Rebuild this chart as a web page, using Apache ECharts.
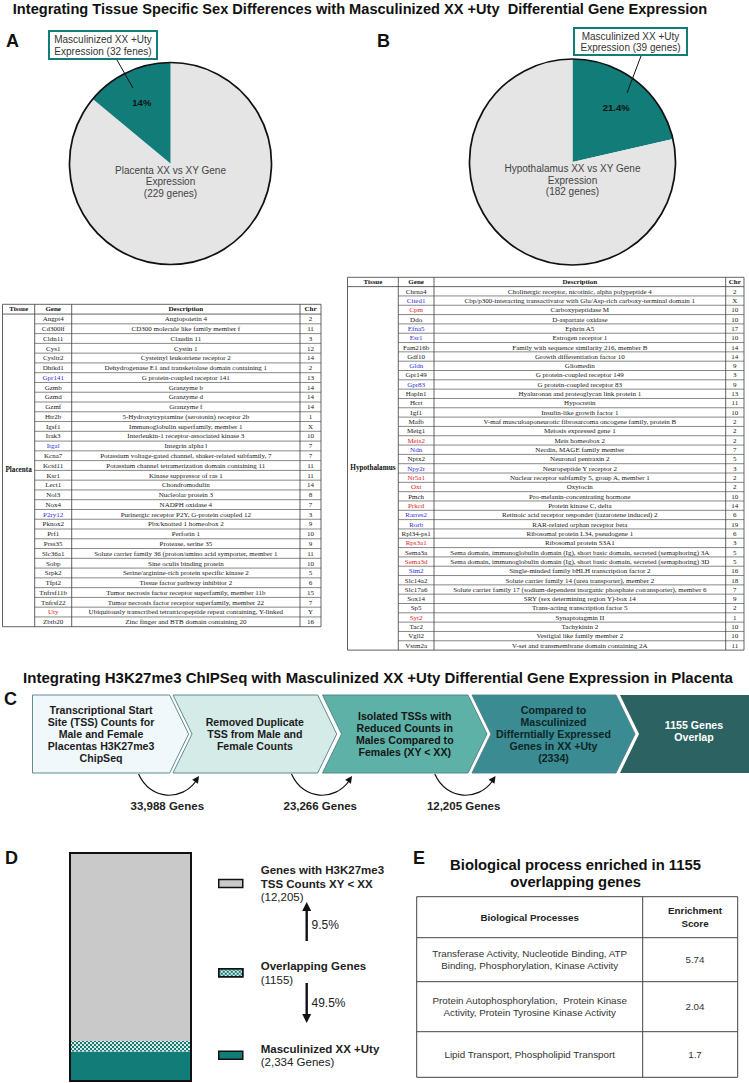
<!DOCTYPE html>
<html>
<head>
<meta charset="utf-8">
<script src="https://cdn.jsdelivr.net/npm/echarts@6/dist/echarts.min.js"></script>
<style>
  html, body { margin: 0; padding: 0; background: #fff; }
  #chart { width: 749px; height: 1083px; }
</style>
</head>
<body>
<div id="chart"></div>
<script>
// ---------------- data ----------------
const mainTitle = 'Integrating Tissue Specific Sex Differences with Masculinized XX +Uty  Differential Gene Expression';
const flowTitle = 'Integrating H3K27me3 ChIPSeq with Masculinized XX +Uty Differential Gene Expression in Placenta';

// pie A (placenta) : [rest, masculinized]
const pieANames = ['Placenta XX vs XY Gene\nExpression\n(229 genes)', 'Masculinized XX +Uty\nExpression (32 fenes)'];
const pieAValues = [197, 32];
const pieALabels = ['', '14%'];
// pie B (hypothalamus) : [masculinized, rest]
const pieBNames = ['Masculinized XX +Uty\nExpression (39 genes)', 'Hypothalamus XX vs XY Gene\nExpression\n(182 genes)'];
const pieBValues = [39, 143];
const pieBLabels = ['21.4%', ''];

const tableHeader = ['Tissue', 'Gene', 'Description', 'Chr'];

const placentaGenes = ['Angpt4', 'Cd300lf', 'Cldn11', 'Cys1', 'Cysltr2', 'Dhtkd1', 'Gpr141', 'Gzmb', 'Gzmd', 'Gzmf',
  'Htr2b', 'Igsf1', 'Irak3', 'Itgal', 'Kcna7', 'Kctd11', 'Ksr1', 'Lect1', 'Nol3', 'Nox4', 'P2ry12', 'Pknox2', 'Prf1',
  'Prss35', 'Slc36a1', 'Sobp', 'Srpk2', 'Tfpi2', 'Tnfrsf11b', 'Tnfrsf22', 'Uty', 'Zbtb20'];
const placentaDesc = ['Angiopoietin 4', 'CD300 molecule like family member f', 'Claudin 11', 'Cystin 1',
  'Cysteinyl leukotriene receptor 2', 'Dehydrogenase E1 and transketolase domain containing 1',
  'G protein-coupled receptor 141', 'Granzyme b', 'Granzyme d', 'Granzyme f',
  '5-Hydroxytryptamine (serotonin) receptor 2b', 'Immunoglobulin superfamily, member 1',
  'Interleukin-1 receptor-associated kinase 3', 'Integrin alpha l',
  'Potassium voltage-gated channel, shaker-related subfamily, 7',
  'Potassium channel tetramerization domain containing 11', 'Kinase suppressor of ras 1', 'Chondromodulin',
  'Nucleolar protein 3', 'NADPH oxidase 4', 'Purinergic receptor P2Y, G-protein coupled 12',
  'Pbx/knotted 1 homeobox 2', 'Perforin 1', 'Protease, serine 35',
  'Solute carrier family 36 (proton/amino acid symporter, member 1', 'Sine oculis binding protein',
  'Serine/arginine-rich protein specific kinase 2', 'Tissue factor pathway inhibitor 2',
  'Tumor necrosis factor receptor superfamily, member 11b', 'Tumor necrosis factor receptor superfamily, member 22',
  'Ubiquitously transcribed tetratricopeptide repeat containing, Y-linked', 'Zinc finger and BTB domain containing 20'];
const placentaChr = ['2', '11', '3', '12', '14', '2', '13', '14', '14', '14', '1', 'X', '10', '7', '7', '11', '11', '14',
  '8', '7', '3', '9', '10', '9', '11', '10', '5', '6', '15', '7', 'Y', '16'];
const placentaBlue = ['Gpr141', 'Itgal', 'P2ry12'];
const placentaRed = ['Uty'];

const hypoGenes = ['Chrna4', 'Cited1', 'Cpm', 'Ddo', 'Efna5', 'Esr1', 'Fam216b', 'Gdf10', 'Gldn', 'Gpr149', 'Gpr83',
  'Hapln1', 'Hcrt', 'Igf1', 'Mafb', 'Meig1', 'Meis2', 'Ndn', 'Nptx2', 'Npy2r', 'Nr5a1', 'Oxt', 'Pmch', 'Prkcd',
  'Rarres2', 'Rorb', 'Rpl34-ps1', 'Rps3a1', 'Sema3a', 'Sema3d', 'Sim2', 'Slc14a2', 'Slc17a6', 'Sox14', 'Sp5', 'Syt2',
  'Tac2', 'Vgll2', 'Vstm2a'];
const hypoDesc = ['Cholinergic receptor, nicotinic, alpha polypeptide 4',
  'Cbp/p300-interacting transactivator with Glu/Asp-rich carboxy-terminal domain 1', 'Carboxypeptidase M',
  'D-aspartate oxidase', 'Ephrin A5', 'Estrogen receptor 1', 'Family with sequence similarity 216, member B',
  'Growth differentiation factor 10', 'Gliomedin', 'G protein-coupled receptor 149', 'G protein-coupled receptor 83',
  'Hyaluronan and proteoglycan link protein 1', 'Hypocretin', 'Insulin-like growth factor 1',
  'V-maf musculoaponeurotic fibrosarcoma oncogene family, protein B', 'Meiosis expressed gene 1',
  'Meis homeobox 2', 'Necdin, MAGE family member', 'Neuronal pentraxin 2', 'Neuropeptide Y receptor 2',
  'Nuclear receptor subfamily 5, group A, member 1', 'Oxytocin', 'Pro-melanin-concentrating hormone',
  'Protein kinase C, delta', 'Retinoic acid receptor responder (tazarotene induced) 2',
  'RAR-related orphan receptor beta', 'Ribosomal protein L34, pseudogene 1', 'Ribosomal protein S3A1',
  'Sema domain, immunoglobulin domain (Ig), short basic domain, secreted (semaphoring) 3A',
  'Sema domain, immunoglobulin domain (Ig), short basic domain, secreted (semaphoring) 3D',
  'Single-minded family bHLH transcription factor 2', 'Solute carrier family 14 (urea transporter), member 2',
  'Solute carrier family 17 (sodium-dependent inorganic phosphate cotransporter), member 6',
  'SRY (sex determining region Y)-box 14', 'Trans-acting transcription factor 5', 'Synaptotagmin II',
  'Tachykinin 2', 'Vestigial like family member 2', 'V-set and transmembrane domain containing 2A'];
const hypoChr = ['2', 'X', '10', '10', '17', '10', '14', '14', '9', '3', '9', '13', '11', '10', '2', '2', '2', '7', '5',
  '3', '2', '2', '10', '14', '6', '19', '6', '3', '5', '5', '16', '18', '7', '9', '2', '1', '10', '10', '11'];
const hypoBlue = ['Cited1', 'Efna5', 'Esr1', 'Gldn', 'Gpr83', 'Ndn', 'Npy2r', 'Rarres2', 'Rorb', 'Sim2'];
const hypoRed = ['Cpm', 'Meis2', 'Nr5a1', 'Oxt', 'Prkcd', 'Rps3a1', 'Sema3d', 'Syt2'];

const flowSteps = [
  'Transcriptional Start\nSite (TSS) Counts for\nMale and Female\nPlacentas H3K27me3\nChipSeq',
  'Removed Duplicate\nTSS from Male and\nFemale Counts',
  'Isolated TSSs with\nReduced Counts in\nMales Compared to\nFemales (XY < XX)',
  'Compared to\nMasculinized\nDifferntially Expressed\nGenes in XX +Uty\n(2334)',
  '1155 Genes\nOverlap'
];
const flowCounts = ['33,988 Genes', '23,266 Genes', '12,205 Genes'];

// D : stacked column, bottom to top (segment sizes)
const dNames = ['Masculinized XX +Uty', 'Overlapping Genes', 'Genes with H3K27me3\nTSS Counts XY < XX'];
const dValues = [1725, 620, 11039];
const dCounts = ['(2,334 Genes)', '(1155)', '(12,205)'];
const dPercents = ['9.5%', '49.5%'];

// E
const eTitle = 'Biological process enriched in 1155\noverlapping genes';
const eHeader = ['Biological Processes', 'Enrichment\nScore'];
const eProcesses = ['Transferase Activity, Nucleotide Binding, ATP\nBinding, Phosphorylation, Kinase Activity',
  'Protein Autophosphorylation,  Protein Kinase\nActivity, Protein Tyrosine Kinase Activity',
  'Lipid Transport, Phospholipid Transport'];
const eScores = ['5.74', '2.04', '1.7'];

// ---------------- helpers ----------------
const SANS = '"Liberation Sans", Arial, Helvetica, sans-serif';
const SERIF = '"Liberation Serif", "Times New Roman", serif';
const TEAL = '#127c79';
const PIE_GRAY = '#e5e5e5';
const G = [];

function addText(x, y, s, o) {
  o = o || {};
  const align = o.align || 'center';
  const va = o.va || 'middle';
  const st = {
    text: s, x: x, y: y, fill: o.fill || '#111',
    fontSize: o.size || 10, fontWeight: o.bold ? 'bold' : 'normal',
    fontFamily: o.family || SANS,
    align: align, verticalAlign: va, textAlign: align, textVerticalAlign: va
  };
  if (o.lh) st.lineHeight = o.lh;
  G.push({ type: 'text', silent: true, z: o.z || 60, style: st });
}
function addLine(x1, y1, x2, y2, color, w, z) {
  G.push({ type: 'line', silent: true, z: z || 50, shape: { x1: x1, y1: y1, x2: x2, y2: y2 },
    style: { stroke: color || '#555', lineWidth: w || 0.7 } });
}
function addRect(x, y, w, h, fill, stroke, lw, z) {
  G.push({ type: 'rect', silent: true, z: z || 40, shape: { x: x, y: y, width: w, height: h },
    style: { fill: fill || 'none', stroke: stroke || 'none', lineWidth: lw || 1 } });
}
function addPoly(points, fill, stroke, lw, z) {
  G.push({ type: 'polygon', silent: true, z: z || 40, shape: { points: points },
    style: { fill: fill, stroke: stroke || 'none', lineWidth: lw || 0 } });
}
function arrowHead(tx, ty, fx, fy, len, half) {
  const dx = tx - fx, dy = ty - fy, L = Math.sqrt(dx * dx + dy * dy);
  const ux = dx / L, uy = dy / L;
  const bx = tx - ux * len, by = ty - uy * len;
  addPoly([[tx, ty], [bx - uy * half, by + ux * half], [bx + uy * half, by - ux * half]], '#111', 'none', 0, 70);
}

function drawTable(cols, top, rowH, tissue, genes, desc, chr, blue, red) {
  const n = genes.length;
  const bottom = top + rowH * (n + 1);
  const lc = '#474747';
  cols.forEach(function (cx) { addLine(cx, top, cx, bottom, lc, 0.85); });
  addLine(cols[0], top, cols[4], top, lc, 0.85);
  addLine(cols[0], top + rowH, cols[4], top + rowH, lc, 0.85);
  addLine(cols[0], bottom, cols[4], bottom, lc, 0.85);
  for (let i = 1; i < n; i++) addLine(cols[1], top + rowH * (i + 1), cols[4], top + rowH * (i + 1), lc, 0.65);
  const cx = [0, 1, 2, 3].map(function (k) { return (cols[k] + cols[k + 1]) / 2; });
  tableHeader.forEach(function (h, k) {
    addText(cx[k], top + rowH / 2 + 0.3, h, { size: 7, bold: true, family: SERIF });
  });
  for (let i = 0; i < n; i++) {
    const y = top + rowH * (i + 1.5) + 0.3;
    const col = blue.indexOf(genes[i]) >= 0 ? '#2f2fd8' : (red.indexOf(genes[i]) >= 0 ? '#e3211c' : '#181818');
    addText(cx[1], y, genes[i], { size: 7, family: SERIF, fill: col });
    addText(cx[2], y, desc[i], { size: 7, family: SERIF, fill: '#181818' });
    addText(cx[3], y, chr[i], { size: 7, family: SERIF, fill: '#181818' });
  }
  addText(cx[0], (top + rowH + bottom) / 2, tissue, { size: 7.2, bold: true, family: SERIF });
}

// ---------------- panel letters & titles ----------------
addText(360, 9, mainTitle, { size: 14.6, bold: true });
[['A', 6, 41], ['B', 377, 41], ['C', 4, 699], ['D', 5, 858], ['E', 413, 858]].forEach(function (p) {
  addText(p[1], p[2], p[0], { size: 18, bold: true, align: 'left' });
});
addText(378, 677, flowTitle, { size: 15, bold: true });

// ---------------- callouts for A / B ----------------
addRect(49, 31, 108, 28, '#fff', TEAL, 2, 65);
addText(103, 45.5, pieANames[1], { size: 10, fill: '#333', lh: 11.5, z: 66 });
addLine(117, 60, 133, 88, '#111', 1, 70);
addRect(574, 28, 113, 27, '#fff', TEAL, 2, 65);
addText(630.5, 42, pieBNames[0], { size: 10, fill: '#333', lh: 11.5, z: 66 });
addLine(641, 56, 627, 93, '#111', 1, 70);

// ---------------- tables ----------------
drawTable([2.5, 34.7, 71.7, 300, 321], 304.3, 9.77, 'Placenta', placentaGenes, placentaDesc, placentaChr, placentaBlue, placentaRed);
drawTable([347.5, 398.3, 434, 725.7, 744], 277.3, 9.32, 'Hypothalamus', hypoGenes, hypoDesc, hypoChr, hypoBlue, hypoRed);

// ---------------- flow chart C ----------------
const chevX = [[32.5, 169.6], [173, 317.7], [322.5, 468], [472, 616], [620, 749]];
const chevFill = ['#f1f8fb', '#d5ebe7', '#5eb1a6', '#3a8b92', '#2d6262'];
const chevText = ['#1d1d1d', '#1d1d1d', '#151515', '#0e2526', '#ffffff'];
const cTop = 695, cBot = 773, tip = 19, cMid = (cTop + cBot) / 2;
flowSteps.forEach(function (s, i) {
  const L = chevX[i][0], R = chevX[i][1];
  const pts = [[L, cTop], [R, cTop]];
  if (i < 4) pts.push([R + tip, cMid]);
  pts.push([R, cBot], [L, cBot]);
  if (i > 0) pts.push([L + tip, cMid]);
  addPoly(pts, chevFill[i], i < 4 ? '#4f8087' : 'none', i < 4 ? 0.9 : 0, 40);
  const tx = (L + R) / 2 + (i > 0 ? tip / 2 : 0);
  addText(tx, cMid + (i === 4 ? -3 : 0), s, { size: 10.6, bold: true, fill: chevText[i], lh: 12.2 });
});
const flowArrowX = [[138.6, 198], [291.5, 351], [434.8, 494.5]];
flowCounts.forEach(function (c, i) {
  const s = flowArrowX[i][0], e = flowArrowX[i][1];
  const cp2x = e - 16, cp2y = cBot + 28;
  G.push({ type: 'bezierCurve', silent: true, z: 55,
    shape: { x1: s, y1: cBot + 1, cpx1: s + 12, cpy1: cBot + 28, cpx2: cp2x, cpy2: cp2y, x2: e - 2, y2: cBot + 8 },
    style: { stroke: '#111', lineWidth: 1.2, fill: 'none' } });
  arrowHead(e + 1, cBot + 3, cp2x, cp2y, 7, 3.5);
  addText((s + e) / 2 - 1, cBot + 33, c, { size: 11.5, bold: true, fill: '#222' });
});

// ---------------- D arrows ----------------
addLine(306.7, 941, 306.7, 910, '#111', 2.4, 70);
arrowHead(306.7, 902, 306.7, 941, 9, 4.5);
addText(311.5, 925, dPercents[0], { size: 12, fill: '#222', align: 'left' });
addLine(306.7, 983, 306.7, 1015, '#111', 2.4, 70);
arrowHead(306.7, 1023, 306.7, 983, 9, 4.5);
addText(311.5, 1003, dPercents[1], { size: 12, fill: '#222', align: 'left' });

// ---------------- E table ----------------
addText(575.5, 873.5, eTitle, { size: 14.8, bold: true, lh: 17.5 });
const eX = [416.7, 642.7, 737.7], eY = [896.7, 937.7, 981.7, 1031.7, 1077.3];
addRect(eX[0], eY[0], eX[2] - eX[0], eY[4] - eY[0], 'none', '#444', 1, 50);
addLine(eX[1], eY[0], eX[1], eY[4], '#444', 1);
for (let k = 1; k < 4; k++) addLine(eX[0], eY[k], eX[2], eY[k], '#444', 1);
addText((eX[0] + eX[1]) / 2, (eY[0] + eY[1]) / 2, eHeader[0], { size: 9.8, bold: true, fill: '#222' });
addText(695, (eY[0] + eY[1]) / 2, eHeader[1], { size: 9.8, bold: true, fill: '#222', lh: 13 });
eProcesses.forEach(function (p, i) {
  const y = (eY[i + 1] + eY[i + 2]) / 2;
  addText((eX[0] + eX[1]) / 2, y, p, { size: 9.8, fill: '#333', lh: 12.5 });
  addText(695, y, eScores[i], { size: 9.8, fill: '#333' });
});

// ---------------- pies ----------------
function pieSeries(center, r, names, values, colors, labels, labelR, centerName) {
  return [
    { type: 'pie', center: center, radius: r, startAngle: 90, clockwise: true, silent: true, z: 2,
      label: { show: false }, labelLine: { show: false },
      data: values.map(function (v, i) {
        return { value: v, name: names[i], itemStyle: { color: colors[i], borderWidth: 0 } };
      }) },
    // percentage labels, placed further out than the default inside position
    { type: 'pie', center: center, radius: labelR, startAngle: 90, clockwise: true, silent: true, z: 3,
      labelLine: { show: false },
      label: { show: true, position: 'inside', fontSize: 9.5, fontWeight: 'bold', color: '#111', fontFamily: SANS,
        formatter: function (p) { return labels[p.dataIndex]; } },
      itemStyle: { color: 'transparent', borderWidth: 0 },
      data: values.map(function (v, i) { return { value: v, name: names[i] + ' ' }; }) },
    // outline + centre caption (pushed below the centre by a spacer line)
    { type: 'pie', center: center, radius: r, silent: true, z: 4, labelLine: { show: false },
      itemStyle: { color: 'transparent', borderColor: '#111', borderWidth: 1.7 },
      label: { show: true, position: 'center',
        formatter: function (p) { return '{sp| }\n' + p.name; },
        rich: { sp: { lineHeight: 36, fontSize: 2 } },
        fontSize: 10, lineHeight: 11.5, color: '#444', fontFamily: SANS },
      data: [{ value: 1, name: centerName }] }
  ];
}

const series = []
  .concat(pieSeries([170.5, 163.5], 101, pieANames, pieAValues, [PIE_GRAY, TEAL], pieALabels, 129, pieANames[0]))
  .concat(pieSeries([572.5, 162], 103, pieBNames, pieBValues, [TEAL, PIE_GRAY], pieBLabels, 134, pieBNames[1]));

// stacked column for D
const dColors = [TEAL, '#dfe9e8', '#c9c9c9'];
dNames.forEach(function (n, i) {
  const s = { type: 'bar', name: n, stack: 'd', barWidth: '100%', silent: true, z: 2,
    data: [dValues[i]], itemStyle: { color: dColors[i] } };
  if (i === 1) s.itemStyle.decal = { symbol: 'rect', symbolSize: 1, color: TEAL,
    dashArrayX: [[2, 2], [0, 2, 2, 0]], dashArrayY: [2, 0] };
  series.push(s);
});

const chart = echarts.init(document.getElementById('chart'), null, { renderer: 'svg' });
chart.setOption({
  animation: false,
  backgroundColor: '#fff',
  textStyle: { fontFamily: SANS },
  grid: { left: 70, top: 853, width: 121, height: 228, show: true, z: 5,
    backgroundColor: 'transparent', borderColor: '#111', borderWidth: 2 },
  xAxis: { type: 'category', data: ['D'], show: false },
  yAxis: { type: 'value', min: 0, max: 'dataMax', show: false },
  legend: {
    data: [dNames[2], dNames[1], dNames[0]],
    orient: 'vertical', left: 213, top: 859, itemWidth: 24, itemHeight: 8, itemGap: 57,
    selectedMode: false, icon: 'rect',
    itemStyle: { borderColor: '#111', borderWidth: 1.5 },
    formatter: function (name) {
      const i = dNames.indexOf(name);
      return name.split('\n').map(function (l) { return '{b|' + l + '}'; }).join('\n') + '\n{n|' + dCounts[i] + '}';
    },
    textStyle: { padding: [0, 0, 0, 13],
      rich: { b: { fontSize: 11.5, fontWeight: 'bold', lineHeight: 13.5, color: '#222', fontFamily: SANS },
              n: { fontSize: 11.5, lineHeight: 13.5, color: '#222', fontFamily: SANS } } }
  },
  series: series,
  graphic: { elements: G }
});
</script>
</body>
</html>
